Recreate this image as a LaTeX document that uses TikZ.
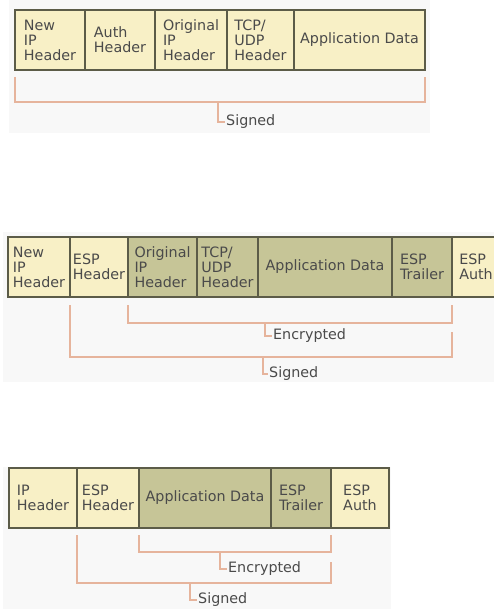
\documentclass[tikz,border=0pt]{standalone}
\usepackage{fontspec}
\setmainfont{DejaVu Sans}
\usetikzlibrary{positioning}
\definecolor{hdrfill}{HTML}{F8F0C6}
\definecolor{encfill}{HTML}{C6C597}
\definecolor{cellline}{HTML}{5C5C48}
\definecolor{brkline}{HTML}{E6B49C}
\definecolor{panelbg}{HTML}{F8F8F8}
\definecolor{txtgray}{HTML}{4A4A4A}
\tikzset{
  cell/.style={draw=cellline, line width=1.6pt, fill=hdrfill, minimum height=60pt,
    inner sep=1pt, outer sep=0pt, align=left, text=txtgray,
    font=\fontsize{14.3}{15}\selectfont},
  enccell/.style={cell, fill=encfill},
  brk/.style={draw=brkline, line width=1.6pt},
  lbl/.style={anchor=west, inner sep=1pt, text=txtgray, font=\fontsize{14.3}{15}\selectfont},
}
\begin{document}
\begin{tikzpicture}[x=1pt,y=-1pt]
\useasboundingbox (0,0) rectangle (494,609);
\clip (0,0) rectangle (494,609);
%\draw[step=50,gray,very thin] (0,0) grid (494,609); %background grid
\fill[panelbg] (9,0) rectangle (430,133);
\fill[panelbg] (3,232) rectangle (494,382);
\fill[panelbg] (3,467) rectangle (391,609);
% tunnel mode, AH
\node[cell, minimum width=70pt, anchor=north west] (t1hdr) at (15,10) {New\\IP\\Header};
\node[cell, minimum width=70pt, right=0pt of t1hdr] (t1auth) {Auth\\Header};
\node[cell, minimum width=72pt, right=0pt of t1auth] (t1orig) {Original\\IP\\Header};
\node[cell, minimum width=67pt, right=0pt of t1orig] (t1tcp) {TCP/\\UDP\\Header};
\node[cell, minimum width=131pt, right=0pt of t1tcp] (t1data) {Application Data};
\coordinate (t1sbot) at (0,102);
\coordinate (t1stick) at (218,102);
\node[lbl] (t1sgn) at (225,122) {Signed};
\draw[brk] ([yshift=-7pt]t1hdr.south west) -- (t1hdr.south west |- t1sbot)
  -- (t1data.south east |- t1sbot) -- ([yshift=-7pt]t1data.south east);
\draw[brk] (t1stick) |- (t1sgn.west);
% tunnel mode, ESP
\node[cell, minimum width=62pt, anchor=north west] (t2hdr) at (8,237) {New\\IP\\Header};
\node[cell, minimum width=58pt, right=0pt of t2hdr] (t2esp) {ESP\\Header};
\node[enccell, minimum width=69pt, right=0pt of t2esp] (t2orig) {Original\\IP\\Header};
\node[enccell, minimum width=61pt, right=0pt of t2orig] (t2tcp) {TCP/\\UDP\\Header};
\node[enccell, minimum width=134pt, right=0pt of t2tcp] (t2data) {Application Data};
\node[enccell, minimum width=60pt, right=0pt of t2data] (t2trl) {ESP\\Trailer};
\node[cell, minimum width=48pt, right=0pt of t2trl] (t2auth) {ESP\\Auth};
\coordinate (t2ebot) at (0,323);
\coordinate (t2sbot) at (0,357);
\coordinate (t2etick) at (265,323);
\coordinate (t2stick) at (263,357);
\node[lbl] (t2enc) at (272,336) {Encrypted};
\node[lbl] (t2sgn) at (268,374) {Signed};
\draw[brk] ([yshift=-8pt]t2orig.south west) -- (t2orig.south west |- t2ebot)
  -- (t2trl.south east |- t2ebot) -- ([yshift=-8pt]t2trl.south east);
\draw[brk] (t2etick) |- (t2enc.west);
\draw[brk] ([yshift=-8pt]t2esp.south west) -- (t2esp.south west |- t2sbot)
  -- (t2trl.south east |- t2sbot) -- ([yshift=-35pt]t2trl.south east);
\draw[brk] (t2stick) |- (t2sgn.west);
% transport mode, ESP
\node[cell, minimum width=68pt, anchor=north west] (t3hdr) at (9,468) {IP\\Header};
\node[cell, minimum width=62pt, right=0pt of t3hdr] (t3esp) {ESP\\Header};
\node[enccell, minimum width=132pt, right=0pt of t3esp] (t3data) {Application Data};
\node[enccell, minimum width=60pt, right=0pt of t3data] (t3trl) {ESP\\Trailer};
\node[cell, minimum width=58pt, right=0pt of t3trl] (t3auth) {ESP\\Auth};
\coordinate (t3ebot) at (0,552);
\coordinate (t3sbot) at (0,583);
\coordinate (t3etick) at (220,552);
\coordinate (t3stick) at (190,583);
\node[lbl] (t3enc) at (227,569) {Encrypted};
\node[lbl] (t3sgn) at (197,600) {Signed};
\draw[brk] ([yshift=-7pt]t3data.south west) -- (t3data.south west |- t3ebot)
  -- (t3trl.south east |- t3ebot) -- ([yshift=-7pt]t3trl.south east);
\draw[brk] (t3etick) |- (t3enc.west);
\draw[brk] ([yshift=-7pt]t3esp.south west) -- (t3esp.south west |- t3sbot)
  -- (t3trl.south east |- t3sbot) -- ([yshift=-34pt]t3trl.south east);
\draw[brk] (t3stick) |- (t3sgn.west);
\end{tikzpicture}
\end{document}
